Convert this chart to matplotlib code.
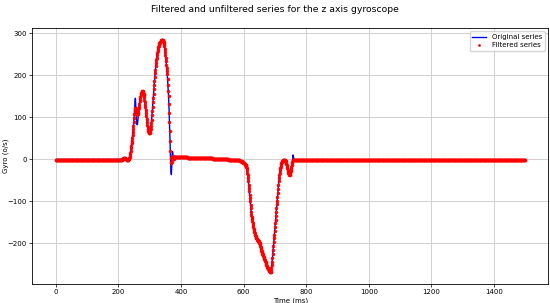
import matplotlib
matplotlib.use("Agg")
import matplotlib.pyplot as plt
import numpy as np

# gyroscope z axis, one sample per ms
flat_start = [-1.0] * 210                      # t = 0 .. 209
small_bump = [-1, -1, -0.5, 0, 0.5, 1, 1.5, 2, 2, 2,
              2, 1.5, 1, 0.5, 0, -0.5, -1, -1, -1, -1]   # t = 210 .. 229
first_event = [                                # t = 230 .. 380
    -1, -1, -0.5, 0, 1, 3, 6, 10, 15, 20,
    26, 32, 38, 44, 50, 57, 64, 72, 80, 90,
    100, 112, 125, 138, 145, 132, 112, 98, 88, 83,
    82, 85, 92, 101, 110, 118, 125, 132, 138, 143,
    148, 152, 155, 158, 160, 161.5, 162, 162, 161, 159,
    156, 152, 147, 142, 136, 130, 123, 116, 109, 102,
    95, 88, 82, 76, 71, 67, 64, 62.5, 62, 62,
    63, 65, 68, 72, 78, 85, 94, 104, 114, 125,
    136, 146, 156, 166, 176, 186, 195, 204, 213, 221,
    229, 236, 242, 248, 253, 258, 262, 266, 269, 272,
    274, 276, 277.5, 279, 280, 281, 282, 283, 284, 284.5,
    285, 284.5, 283.5, 282, 279.5, 276.5, 273, 268.5, 262, 255,
    248, 241, 233, 225, 218, 210, 202, 190, 177, 163,
    150, 132, 110, 88, 62, 36, 10, -14, -30, -37,
    -22, -2, 14, 18, 11, 4, 1, 3, 5, 5.5,
    5]
drift = ([4] * 40 + [3] * 40 + [2] * 40 + [1] * 30 + [0] * 20 + [-1] * 15
         + [-2] * 12 + [-3] * 9 + [-4] * 5 + [-5] * 3 + [-6, -7, -7.5])  # t = 381 .. 597
second_event = [                               # t = 598 .. 760
    -8, -8.5,
    -9, -9.5, -10, -11, -12, -13, -14, -15, -16.5, -18,
    -22, -27, -33, -39, -45, -53, -61, -69, -77, -85,
    -93, -101, -109, -117, -125, -133, -138, -143, -148, -153,
    -158, -162, -166, -170, -174, -177, -180, -182, -184, -186,
    -188, -189, -190, -191, -192, -193, -194, -195, -196, -197,
    -199, -201, -203, -206, -209, -212, -215, -218, -220, -222,
    -225, -227, -229, -231, -233, -236, -238, -240, -242, -244,
    -246, -248, -250, -252, -254, -256, -258, -260, -261, -262,
    -264, -265, -266, -267, -268, -268.5, -269, -268, -265, -259,
    -252, -245, -236, -226, -216, -207, -198, -189, -180, -171,
    -162, -153, -144, -135, -126, -117, -108, -99, -90, -80,
    -71, -62, -53, -46, -39, -33, -27, -22, -18, -15,
    -12, -10, -8, -6.5, -5, -4, -3, -2.5, -2, -2,
    -2, -2.5, -3, -4, -5.5, -7, -9, -11.5, -14.5, -18,
    -22, -26, -29, -32, -34.5, -36, -37, -37, -35, -32,
    -28.5, -25, -22, -18, -14, -10, -6, -3, 10, 6,
    2]
flat_end = [-1.5] * 739                        # t = 761 .. 1499

# where the filtered series differs from the original
filt_spike1 = [80, 89, 98, 107, 114, 119, 122, 121, 118, 114,
               110, 107, 106, 107, 110, 113, 117, 121, 126, 132]  # t = 248 .. 267
filt_spike2 = [66, 42, 20, 2, -8, -10, -6, 0, 5, 7, 6, 5]         # t = 364 .. 375
filt_spike3 = [-1, -1, -1.5]                                      # t = 758 .. 760

original = np.array(flat_start + small_bump + first_event + drift + second_event + flat_end)
time_ms = np.arange(len(original))

filtered = original.copy()
filtered[248:268] = filt_spike1
filtered[364:376] = filt_spike2
filtered[758:761] = filt_spike3

fig = plt.figure(figsize=(5.5, 3.03), dpi=100)
ax = fig.add_axes([0.059, 0.064, 0.938, 0.844])

ax.plot(time_ms, original, color="blue", lw=1.0, label="Original series")
ax.plot(time_ms, filtered, "r.", markersize=4, markeredgewidth=0.5, label="Filtered series")

fig.suptitle("Filtered and unfiltered series for the z axis gyroscope", fontsize=6.7, y=0.985)
ax.set_xlabel("Time (ms)", fontsize=5, labelpad=2)
ax.set_ylabel("Gyro (o/s)", fontsize=5)
ax.yaxis.set_label_coords(-0.045, 0.5)
ax.tick_params(labelsize=5, length=2, width=0.5, pad=2)
ax.grid(True, color="#d0d0d0", lw=0.7)
for s in ax.spines.values():
    s.set_linewidth(0.6)
ax.legend(loc="upper right", fontsize=5, handlelength=2, borderpad=0.4,
          labelspacing=0.3, markerscale=0.7)

fig.savefig("out.png", dpi=100)
